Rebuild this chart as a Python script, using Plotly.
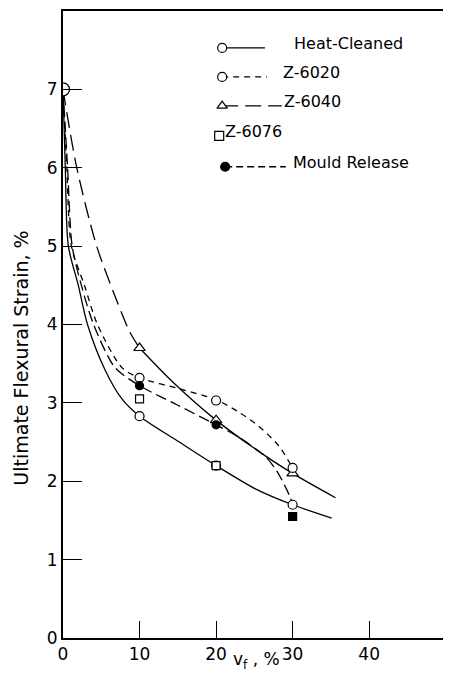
import plotly.graph_objects as go

# ---------------- data ----------------
origin_x = [0]
origin_y = [7.0]

heat_x = [10, 20, 30]
heat_y = [2.83, 2.20, 1.70]
z6020_x = [10, 20, 30]
z6020_y = [3.32, 3.03, 2.17]
z6040_x = [10, 20, 30]
z6040_y = [3.70, 2.78, 2.10]
z6076_x = [10, 20, 30]
z6076_y = [3.05, 2.20, 1.55]
mould_x = [10, 20]
mould_y = [3.22, 2.72]

# hand-drawn fitted curves
heat_cx = [0, 0.3, 0.7, 2.0, 3.2, 5.5, 7.7, 10, 15.2, 20, 25.2, 30, 35.1]
heat_cy = [7.0, 6.0, 5.0, 4.5, 4.0, 3.42, 3.05, 2.83, 2.50, 2.20, 1.90, 1.70, 1.53]
z6020_cx = [0, 0.5, 1.1, 2.8, 4.5, 7.7, 10, 15.2, 20, 23, 25.6, 28.2, 30]
z6020_cy = [7.0, 6.0, 5.0, 4.5, 4.0, 3.45, 3.32, 3.18, 3.04, 2.88, 2.70, 2.45, 2.17]
z6040a_cx = [0, 1.8, 4.4, 7.0, 8.7, 10]
z6040a_cy = [7.0, 6.0, 5.0, 4.31, 3.91, 3.70]
z6040b_cx = [10, 14.3, 20, 25, 30, 35.6]
z6040b_cy = [3.70, 3.27, 2.78, 2.42, 2.10, 1.79]
mould_cx = [0, 0.6, 1.2, 2.4, 4.0, 6.8, 10, 15, 20, 23, 26.5, 28.0, 29.2, 30]
mould_cy = [7.0, 6.0, 5.0, 4.5, 4.0, 3.45, 3.22, 2.97, 2.72, 2.56, 2.31, 2.12, 1.90, 1.72]

x_ticks = [0, 10, 20, 30, 40]
y_ticks = [0, 1, 2, 3, 4, 5, 6, 7, 8]

legend_names = ["Heat-Cleaned", "Z-6020", "Z-6040", "Z-6076", "Mould Release"]

# ---------------- figure ----------------
FONT = "DejaVu Sans"
OFF = 8                      # default page margin of the browser body
W, H = 451 - OFF, 681 - 2 * OFF
ML, MR, MT = 63 - OFF, 1, 10 - OFF
MB = (OFF + H) - 638
PW, PH = W - ML - MR, H - MT - MB

def px(x):
    return (x - OFF - ML) / PW

def py(y):
    return (H - MB - (y - OFF)) / PH

fig = go.Figure()
LW = 1.3

def curve(x, y, dash):
    fig.add_trace(go.Scatter(x=x, y=y, mode="lines",
                             line=dict(color="black", width=LW, dash=dash, shape="spline", smoothing=0.8),
                             showlegend=False, hoverinfo="skip"))

curve(heat_cx, heat_cy, "solid")
curve(z6020_cx, z6020_cy, "6px,5px")
curve(z6040a_cx, z6040a_cy, "16px,7px")
curve(z6040b_cx, z6040b_cy, "solid")
curve(mould_cx, mould_cy, "11px,5px")

def marks(x, y, symbol, size, fill="white"):
    fig.add_trace(go.Scatter(x=x, y=y, mode="markers",
                             marker=dict(symbol=symbol, size=size, color=fill,
                                         line=dict(color="black", width=1.2)),
                             showlegend=False, hoverinfo="skip"))

marks(z6040_x, z6040_y, "triangle-up", 10)
marks(z6020_x, z6020_y, "circle", 9)
marks(heat_x, heat_y, "circle", 9)
marks(z6076_x, z6076_y, "square", 8, fill=["white", "white", "black"])
marks(mould_x, mould_y, "circle", 8, fill="black")
marks(origin_x, origin_y, "circle", 13)

# ---------------- hand-drawn legend (paper coordinates via overlay axes) ----------------
leg_rows_y = [47, 76, 105, 135, 166]
leg_marker_x = [223, 223, 223, 220, 226]
leg_symbols = ["circle", "circle", "triangle-up", "square", "circle"]
leg_fills = ["white", "white", "white", "white", "black"]
leg_line_end = [266, 268, 283, None, 287]
leg_dash = ["solid", "6px,5px", "16px,7px", None, "7px,4px"]
leg_text_x = [293, 282, 283, 224, 292]

for i, name in enumerate(legend_names):
    yy = py(leg_rows_y[i])
    if leg_line_end[i] is not None:
        fig.add_trace(go.Scatter(x=[px(leg_marker_x[i]), px(leg_line_end[i])], y=[yy, yy],
                                 xaxis="x2", yaxis="y2", mode="lines",
                                 line=dict(color="black", width=LW, dash=leg_dash[i]),
                                 showlegend=False, hoverinfo="skip"))
    fig.add_trace(go.Scatter(x=[px(leg_marker_x[i])], y=[yy], xaxis="x2", yaxis="y2", mode="markers",
                             marker=dict(symbol=leg_symbols[i], size=9, color=leg_fills[i],
                                         line=dict(color="black", width=1.2)),
                             showlegend=False, hoverinfo="skip"))
    fig.add_annotation(x=px(leg_text_x[i]), y=py(leg_rows_y[i] - 4), xref="paper", yref="paper",
                       text=name, showarrow=False, xanchor="left", yanchor="middle",
                       font=dict(family=FONT, size=16, color="black"))

# axis titles
fig.add_annotation(x=px(21), y=py(358), xref="paper", yref="paper",
                   xanchor="center", yanchor="middle",
                   text="Ultimate Flexural Strain, %", textangle=-90, showarrow=False,
                   font=dict(family=FONT, size=19, color="black"))
fig.add_annotation(x=px(258), y=py(661), xref="paper", yref="paper",
                   xanchor="center", yanchor="middle",
                   text="v<sub>f</sub> , %", showarrow=False,
                   font=dict(family=FONT, size=17, color="black"))

fig.update_layout(
    width=W, height=H,
    margin=dict(l=ML, r=MR, t=MT, b=MB),
    paper_bgcolor="white", plot_bgcolor="white",
    showlegend=False,
    xaxis=dict(range=[0, 50.3], tickvals=x_ticks, ticktext=[str(v) for v in x_ticks],
               ticks="inside", ticklen=17, tickwidth=1.3, tickcolor="black",
               showline=True, linecolor="black", linewidth=2, mirror=True,
               showgrid=False, zeroline=False,
               tickfont=dict(family=FONT, size=17, color="black")),
    yaxis=dict(range=[0, 8], tickvals=y_ticks, ticktext=[str(v) for v in y_ticks],
               ticks="inside", ticklen=19, tickwidth=1.3, tickcolor="black",
               showline=True, linecolor="black", linewidth=2, mirror=True,
               showgrid=False, zeroline=False,
               tickfont=dict(family=FONT, size=17, color="black")),
    xaxis2=dict(overlaying="x", range=[0, 1], visible=False, fixedrange=True),
    yaxis2=dict(overlaying="y", range=[0, 1], visible=False, fixedrange=True),
)

fig.write_html("out.html")
